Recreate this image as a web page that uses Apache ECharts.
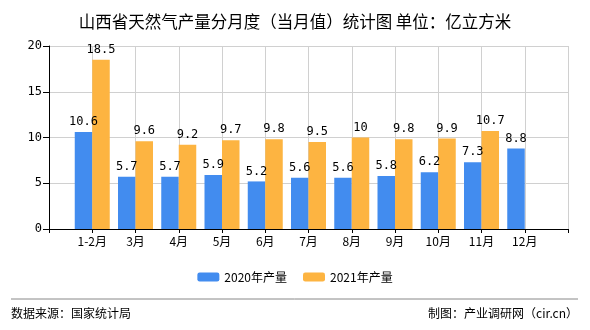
<!DOCTYPE html>
<html>
<head>
<meta charset="utf-8">
<script src="https://cdn.jsdelivr.net/npm/echarts@6/dist/echarts.min.js"></script>
<style>
  html, body { margin: 0; padding: 0; background: #fff; }
  #chart { width: 590px; height: 330px; }
</style>
</head>
<body>
<div id="chart"></div>
<script>
// Monthly categories; blank slots pad both ends so bars sit on the ticks
const categories = ['', '1-2月', '3月', '4月', '5月', '6月', '7月', '8月', '9月', '10月', '11月', '12月', ''];
const output2020 = [null, 10.6, 5.7, 5.7, 5.9, 5.2, 5.6, 5.6, 5.8, 6.2, 7.3, 8.8, null];
const output2021 = [null, 18.5, 9.6, 9.2, 9.7, 9.8, 9.5, 10, 9.8, 9.9, 10.7, null, null];
const yTicks = { min: 0, max: 20, interval: 5 };

const chart = echarts.init(document.getElementById('chart'), null, { renderer: 'canvas' });
const monoFont = '"DejaVu Sans Mono", monospace';
const cjkFont = '"Noto Sans CJK SC", sans-serif';

const labelStyle = {
  show: true,
  position: 'top',
  distance: 4,
  color: '#000',
  fontSize: 12,
  fontFamily: monoFont
};

chart.setOption({
  animation: false,
  title: {
    text: '山西省天然气产量分月度（当月值）统计图 单位：亿立方米',
    left: 'center',
    top: 8,
    textStyle: { fontSize: 16.5, fontWeight: 'normal', color: '#000', fontFamily: cjkFont }
  },
  legend: {
    top: 266,
    left: 'center',
    itemWidth: 22,
    itemHeight: 9,
    itemGap: 16,
    textStyle: { fontSize: 12, color: '#000', fontFamily: cjkFont },
    data: ['2020年产量', '2021年产量']
  },
  grid: { left: 49, right: 22, top: 46, bottom: 101, containLabel: false },
  xAxis: {
    type: 'category',
    data: categories,
    boundaryGap: false,
    axisLine: { lineStyle: { color: '#000', width: 1 } },
    axisTick: { show: true, length: 4, lineStyle: { color: '#000' } },
    axisLabel: { color: '#000', fontSize: 12, fontFamily: cjkFont, margin: 6, interval: 0 },
    splitLine: { show: true, lineStyle: { color: '#d0d0d0', width: 1 } }
  },
  yAxis: {
    type: 'value',
    min: yTicks.min,
    max: yTicks.max,
    interval: yTicks.interval,
    axisLine: { show: true, lineStyle: { color: '#000', width: 1 } },
    axisTick: { show: true, length: 6, lineStyle: { color: '#000' } },
    axisLabel: { color: '#000', fontSize: 12, fontFamily: monoFont, margin: 7 },
    splitLine: { show: true, lineStyle: { color: '#d0d0d0', width: 1 } }
  },
  series: [
    {
      name: '2020年产量',
      type: 'bar',
      data: output2020,
      barWidth: 17.5,
      barGap: '0%',
      itemStyle: { color: '#428cef' },
      label: labelStyle
    },
    {
      name: '2021年产量',
      type: 'bar',
      data: output2021,
      barWidth: 17.5,
      barGap: '0%',
      itemStyle: { color: '#fdb441' },
      label: labelStyle
    }
  ],
  graphic: [
    {
      type: 'line',
      shape: { x1: 11, y1: 299, x2: 578, y2: 299 },
      style: { stroke: '#888', lineWidth: 1 }
    },
    {
      type: 'text',
      left: 11,
      top: 307,
      style: { text: '数据来源：国家统计局', fill: '#000', fontSize: 12, fontFamily: cjkFont }
    },
    {
      type: 'text',
      right: 12,
      top: 307,
      style: { text: '制图：产业调研网（cir.cn）', fill: '#000', fontSize: 12, fontFamily: cjkFont }
    }
  ]
});
</script>
</body>
</html>
